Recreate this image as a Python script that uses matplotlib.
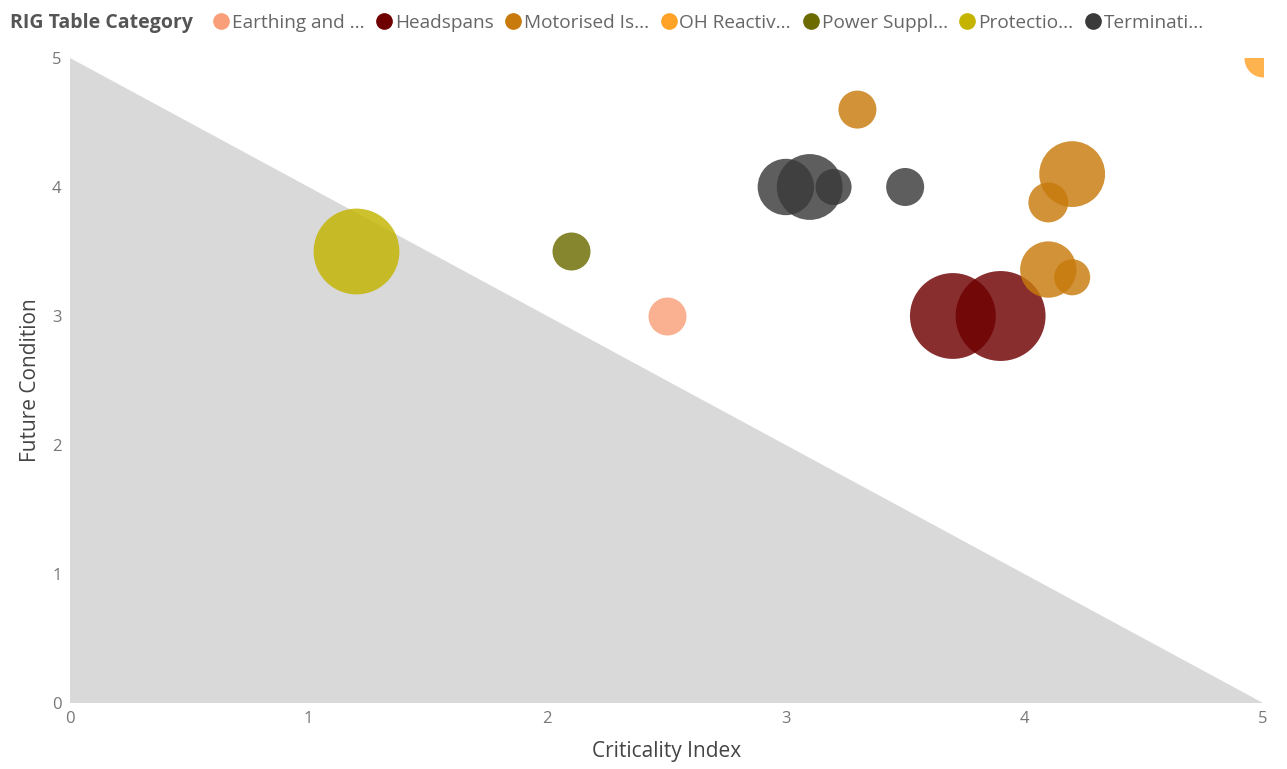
import matplotlib
matplotlib.use("Agg")
import matplotlib.pyplot as plt
from matplotlib.lines import Line2D

plt.rcParams['font.family'] = ['Open Sans', 'DejaVu Sans']

# categories (legend labels as truncated in the report)
categories = ['Earthing and ...', 'Headspans', 'Motorised Is...', 'OH Reactiv...',
              'Power Suppl...', 'Protectio...', 'Terminati...']
colors = ['#F9A07A', '#6E0000', '#C87A0C', '#FFA228', '#6B6B00', '#C4B400', '#3A3A3A']

# bubbles per category: criticality index, future condition, relative size
crit = {
    'Earthing and ...': [2.5],
    'Headspans': [3.7, 3.9],
    'Motorised Is...': [3.3, 4.2, 4.1, 4.1, 4.2],
    'OH Reactiv...': [5.0],
    'Power Suppl...': [2.1],
    'Protectio...': [1.2],
    'Terminati...': [3.0, 3.1, 3.2, 3.5],
}
cond = {
    'Earthing and ...': [3.0],
    'Headspans': [3.0, 3.0],
    'Motorised Is...': [4.6, 4.1, 3.88, 3.36, 3.3],
    'OH Reactiv...': [5.0],
    'Power Suppl...': [3.5],
    'Protectio...': [3.5],
    'Terminati...': [4.0, 4.0, 4.0, 4.0],
}
size = {
    'Earthing and ...': [1.0],
    'Headspans': [5.1, 5.6],
    'Motorised Is...': [1.0, 3.0, 1.1, 2.2, 0.9],
    'OH Reactiv...': [1.0],
    'Power Suppl...': [1.0],
    'Protectio...': [5.1],
    'Terminati...': [2.2, 3.0, 0.9, 1.0],
}

# shaded region under the diagonal
tri_x = [0, 0, 5]
tri_y = [0, 5, 0]

fig = plt.figure(figsize=(12.87, 7.69), dpi=100)
ax = fig.add_axes([0.0544, 0.0858, 0.927, 0.8388])

ax.fill(tri_x, tri_y, color='#D9D9D9', lw=0, zorder=1)

base = (2 * 19 * 0.72) ** 2
for cat, col in zip(categories, colors):
    ax.scatter(crit[cat], cond[cat], s=[v * base for v in size[cat]],
               color=col, alpha=0.82, lw=0, zorder=3)

ax.set_xlim(0, 5)
ax.set_ylim(0, 5)
ax.set_xticks(range(6))
ax.set_yticks(range(6))
for s in ax.spines.values():
    s.set_visible(False)
ax.tick_params(length=0, labelsize=12, colors='#777777', pad=6)
ax.set_xlabel('Criticality Index', fontsize=15, color='#444444', labelpad=10)
ax.set_ylabel('Future Condition', fontsize=15, color='#444444', labelpad=8)

# legend across the top
fig.text(0.008, 0.970, 'RIG Table Category', fontsize=14, fontweight='bold',
         color='#555555', va='center', ha='left')
handles = [Line2D([], [], marker='o', ls='', color=c, markersize=11) for c in colors]
fig.legend(handles, categories, loc='center left', bbox_to_anchor=(0.163, 0.970),
           ncol=7, frameon=False, fontsize=13.7, handletextpad=0.0,
           columnspacing=0.45, handlelength=1.15, labelcolor='#666666',
           borderaxespad=0, borderpad=0)

fig.savefig('out.png', dpi=100)
